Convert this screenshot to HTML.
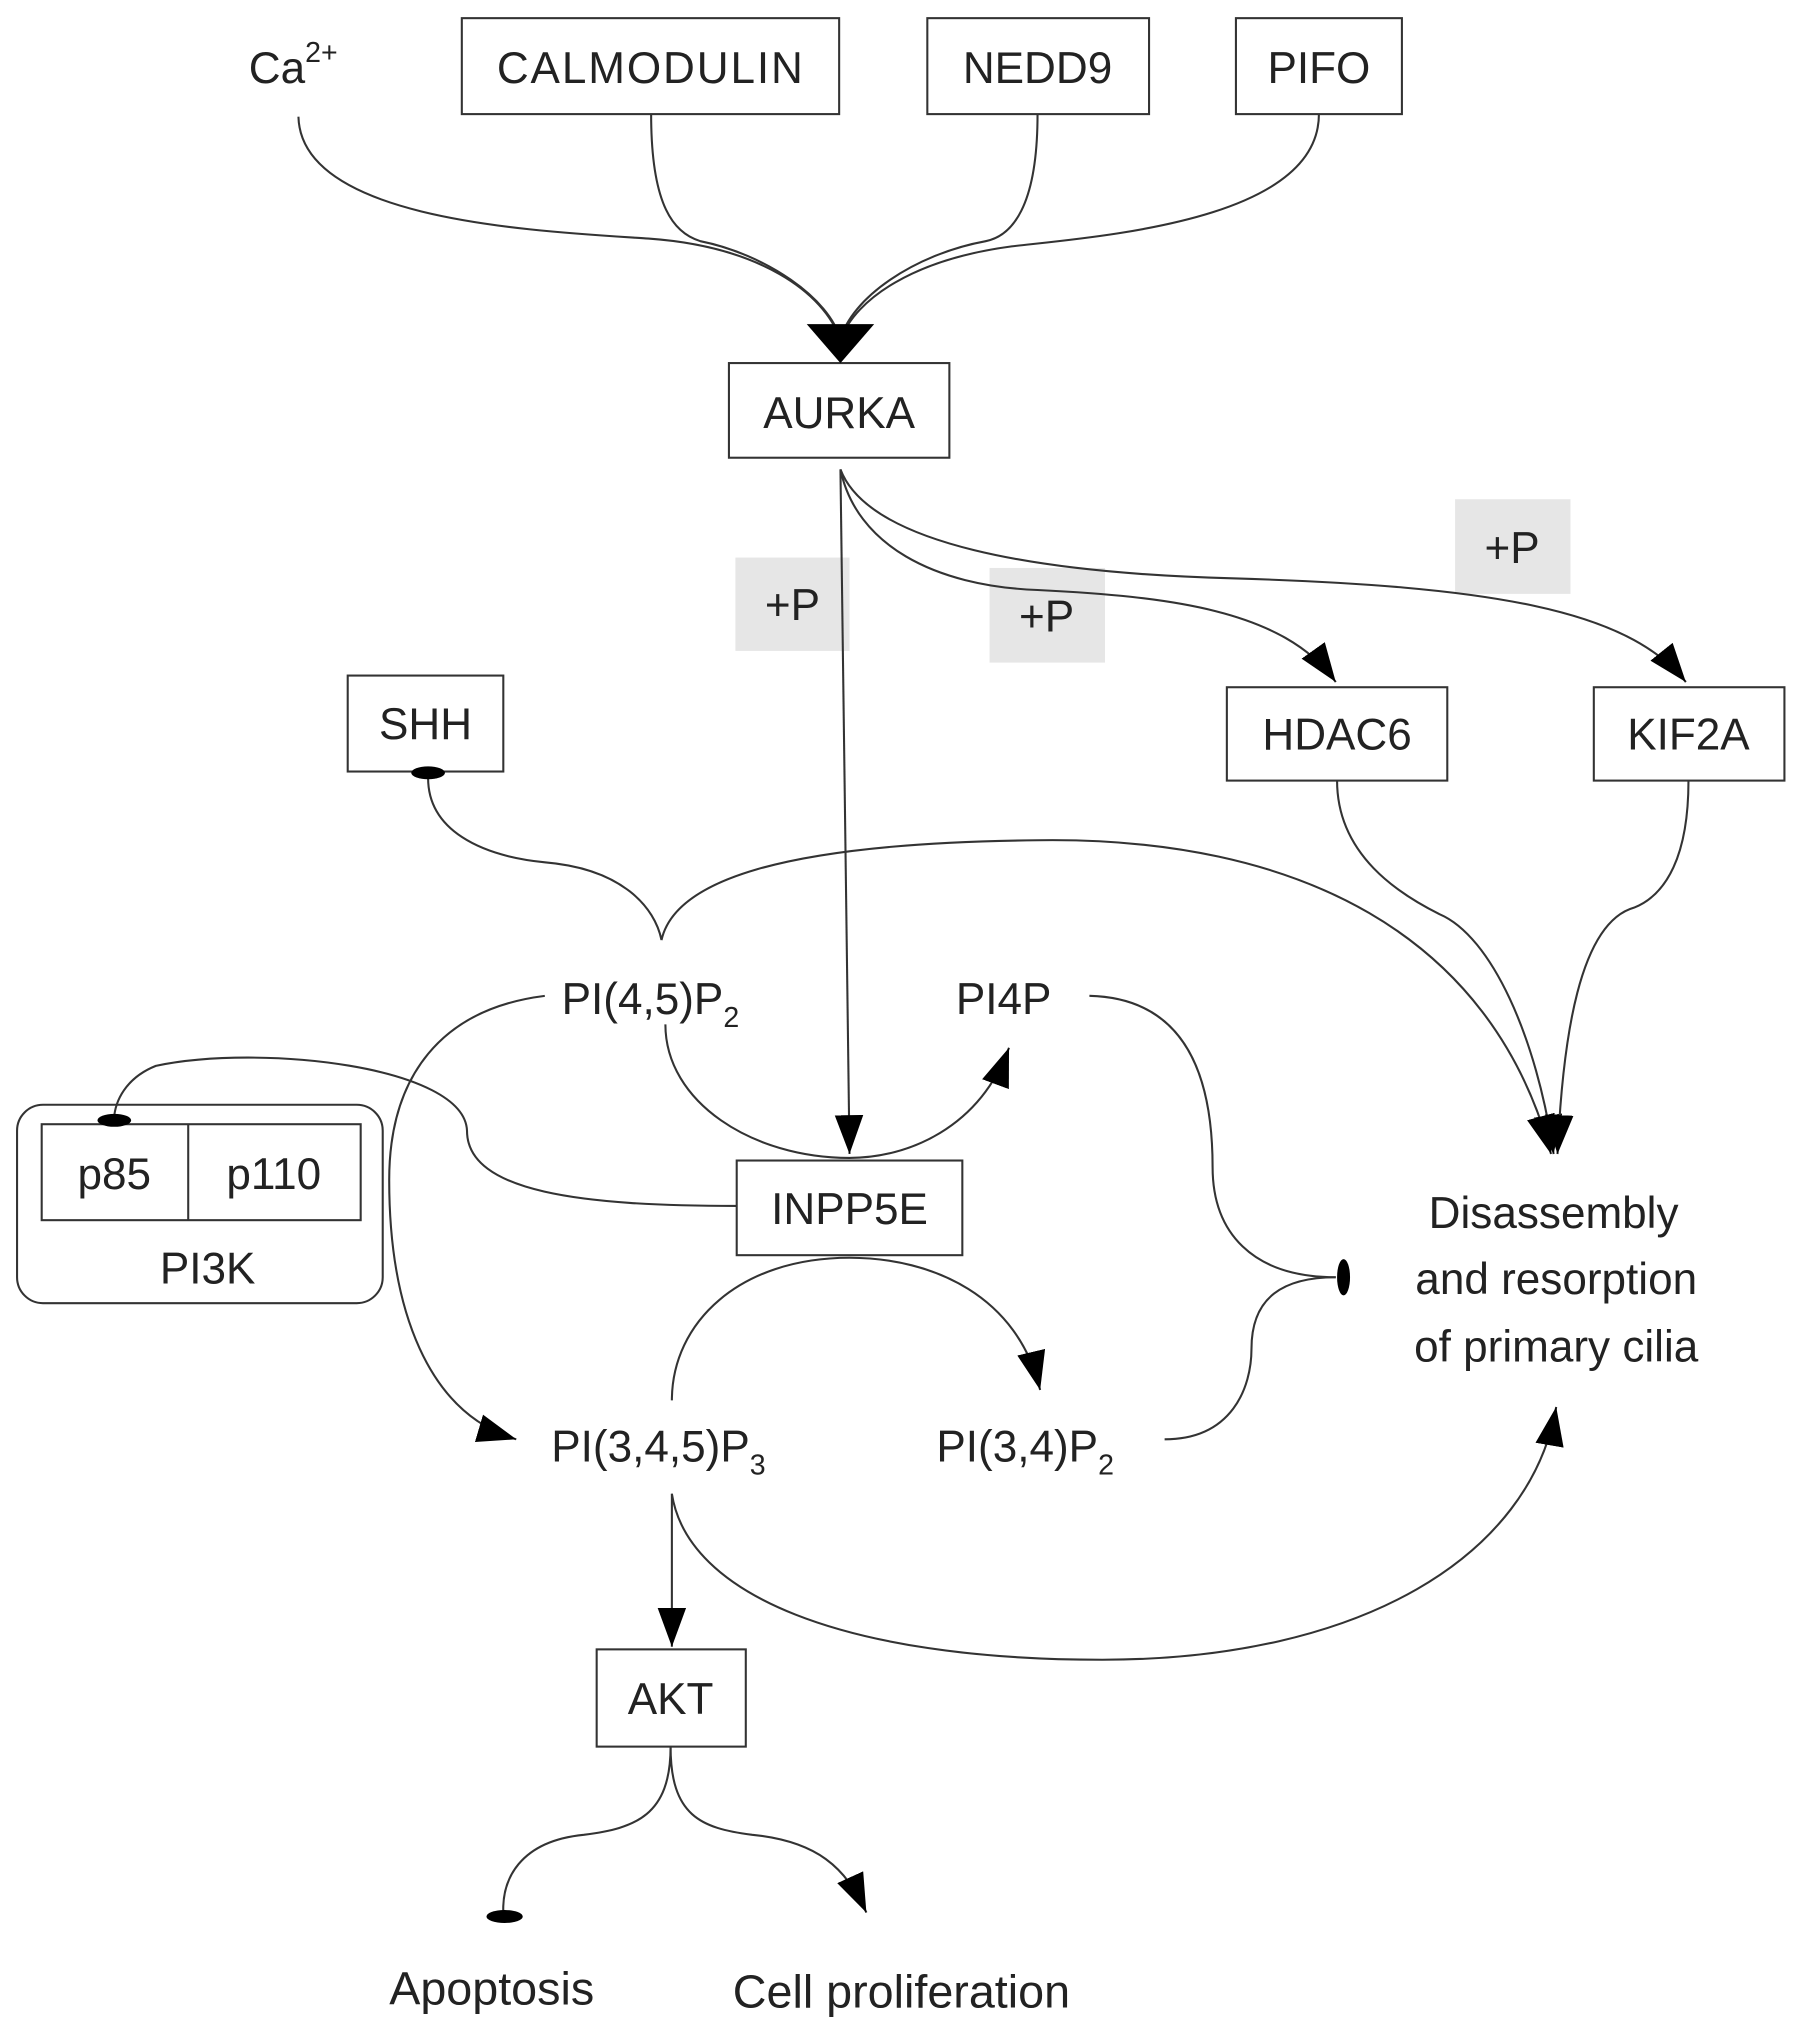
<!DOCTYPE html>
<html><head><meta charset="utf-8"><style>
html,body{margin:0;padding:0;background:#fff;}
svg{display:block;}
text{font-family:"Liberation Sans",sans-serif;fill:#222;}
</style></head><body>
<svg width="1795" height="2028" viewBox="0 0 1384 1564" xmlns="http://www.w3.org/2000/svg">
<defs>
<marker id="a" markerUnits="userSpaceOnUse" markerWidth="32" markerHeight="24" refX="30" refY="11" orient="auto">
<path d="M0,0 L30,11 L0,22 z" fill="#000"/>
</marker>
</defs>
<!-- +P boxes (behind lines) -->
<rect x="567" y="430" width="88" height="72" fill="#e6e6e6"/>
<rect x="763" y="438" width="89" height="73" fill="#e6e6e6"/>
<rect x="1122" y="385" width="89" height="73" fill="#e6e6e6"/>
<g fill="none" stroke="#333" stroke-width="1.6">
<rect x="356" y="14" width="291" height="74"/>
<rect x="715" y="14" width="171" height="74"/>
<rect x="953" y="14" width="128" height="74"/>
<rect x="562" y="280" width="170" height="73"/>
<rect x="946" y="530" width="170" height="72"/>
<rect x="1229" y="530" width="147" height="72"/>
<rect x="268" y="521" width="120" height="74"/>
<rect x="568" y="895" width="174" height="73"/>
<rect x="460" y="1272" width="115" height="75"/>
<rect x="13" y="852" width="282" height="153" rx="20"/>
<rect x="32" y="867" width="246" height="74"/>
<line x1="145" y1="867" x2="145" y2="941"/>
<path d="M230,90 C232,170 410,178 500,184 C585,190 635,225 648,262"/>
<path d="M502,88 C502,160 520,180 540,186 C590,196 640,230 648,262"/>
<path d="M800,88 C800,160 780,182 760,186 C705,196 656,230 648,262"/>
<path d="M1017,88 C1017,170 850,182 780,190 C705,200 660,230 648,262"/>
<line x1="648" y1="362" x2="655" y2="890" marker-end="url(#a)"/>
<path d="M648,362 C660,420 720,452 800,455 C900,460 990,470 1030,526" marker-end="url(#a)"/>
<path d="M648,362 C670,420 800,442 950,446 C1150,452 1255,470 1300,526" marker-end="url(#a)"/>
<path d="M330,600 C330,640 370,660 420,665 C480,670 505,700 510,725"/>
<path d="M510,725 C520,680 600,650 800,648 C1000,645 1150,720 1196,890" marker-end="url(#a)"/>
<path d="M1031,602 C1031,660 1080,690 1110,705 C1150,722 1185,800 1198,890" marker-end="url(#a)"/>
<path d="M1302,602 C1302,660 1285,690 1260,700 C1218,712 1205,800 1201,890" marker-end="url(#a)"/>
<path d="M420,768 C340,778 300,830 300,910 C300,1010 330,1090 398,1110" marker-end="url(#a)"/>
<path d="M513,790 C513,850 580,893 655,893 C700,893 755,870 778,808" marker-end="url(#a)"/>
<path d="M568,930 C450,930 360,920 360,872 C358,822 200,805 120,822 C100,830 90,845 88,860"/>
<path d="M518,1080 C518,1020 570,970 655,970 C720,970 785,1000 802,1072" marker-end="url(#a)"/>
<path d="M840,768 C920,770 935,840 935,900 C935,950 965,985 1030,985"/>
<path d="M898,1110 C950,1110 965,1070 965,1040 C965,1000 990,985 1030,985"/>
<line x1="518" y1="1152" x2="518" y2="1270" marker-end="url(#a)"/>
<path d="M518,1152 C530,1230 650,1280 850,1280 C1050,1280 1180,1200 1200,1085" marker-end="url(#a)"/>
<path d="M517,1347 C517,1400 490,1410 450,1415 C400,1420 387,1450 388,1475"/>
<path d="M517,1347 C517,1400 540,1410 580,1415 C630,1420 652,1440 668,1475" marker-end="url(#a)"/>
</g>
<polygon points="622,250 674,250 648,280" fill="#000"/>
<ellipse cx="330" cy="596" rx="13" ry="5" fill="#000"/>
<ellipse cx="88" cy="864" rx="13" ry="5" fill="#000"/>
<ellipse cx="1036" cy="985" rx="5" ry="14" fill="#000"/>
<ellipse cx="389" cy="1478" rx="14" ry="5" fill="#000"/>
<g font-size="34" text-anchor="middle">
<text x="611" y="478">+P</text>
<text x="807" y="487">+P</text>
<text x="1166" y="434">+P</text>
<text x="226" y="64">Ca<tspan font-size="22" dy="-16">2+</tspan></text>
<text x="501" y="64" textLength="236">CALMODULIN</text>
<text x="800" y="64">NEDD9</text>
<text x="1017" y="64">PIFO</text>
<text x="647" y="330">AURKA</text>
<text x="1031" y="578">HDAC6</text>
<text x="1302" y="578">KIF2A</text>
<text x="328" y="570">SHH</text>
<text x="655" y="944">INPP5E</text>
<text x="517" y="1322">AKT</text>
<text x="88" y="917">p85</text>
<text x="211" y="917">p110</text>
<text x="160" y="990">PI3K</text>
<text x="1198" y="947">Disassembly</text>
<text x="1200" y="998">and resorption</text>
<text x="1200" y="1050">of primary cilia</text>
</g>
<g font-size="34">
<text x="433" y="782">PI(4,5)P<tspan font-size="22" dy="10">2</tspan></text>
<text x="737" y="782">PI4P</text>
<text x="425" y="1127">PI(3,4,5)P<tspan font-size="22" dy="10">3</tspan></text>
<text x="722" y="1127">PI(3,4)P<tspan font-size="22" dy="10">2</tspan></text>
<text x="300" y="1546" font-size="36">Apoptosis</text>
<text x="565" y="1548" font-size="36">Cell proliferation</text>
</g>
</svg>
</body></html>
